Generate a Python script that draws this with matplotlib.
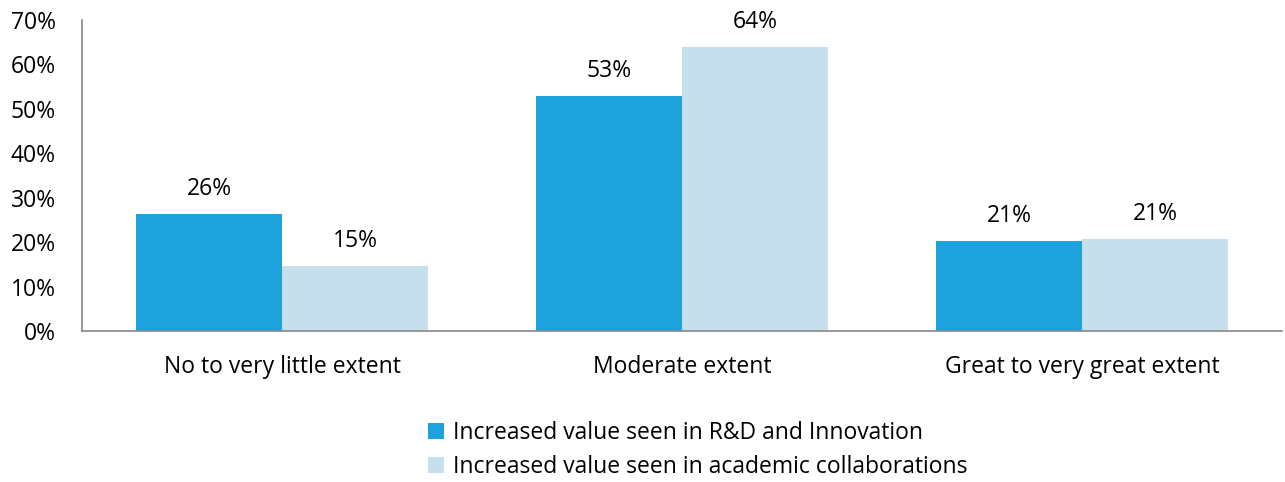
import matplotlib
matplotlib.use("Agg")
import matplotlib.pyplot as plt
import numpy as np

categories = ["No to very little extent", "Moderate extent", "Great to very great extent"]
rd_innovation = [26.3, 52.9, 20.3]
academic = [14.6, 63.9, 20.7]
rd_labels = ["26%", "53%", "21%"]
ac_labels = ["15%", "64%", "21%"]
series_names = ["Increased value seen in R&D and Innovation",
                "Increased value seen in academic collaborations"]

BLUE = "#1ca3dd"
LIGHT = "#c5e0ec"
FS = 16.5

plt.rcParams["font.family"] = ["Open Sans", "DejaVu Sans"]

fig = plt.figure(figsize=(12.85, 4.82), dpi=100)
ax = fig.add_axes([0.0638, 0.313, 0.9342, 0.6455])

x = np.arange(len(categories))
w = 0.365
b1 = ax.bar(x - w / 2, rd_innovation, w, color=BLUE, label=series_names[0])
b2 = ax.bar(x + w / 2, academic, w, color=LIGHT, label=series_names[1])

for bars, labs in ((b1, rd_labels), (b2, ac_labels)):
    for r, lab in zip(bars, labs):
        ax.text(r.get_x() + r.get_width() / 2, r.get_height() + 3.0, lab,
                ha="center", va="bottom", fontsize=FS)

ax.set_xlim(-0.5, 2.5)
ax.set_ylim(0, 70)
ax.set_yticks(range(0, 71, 10))
ax.set_yticklabels([f"{v}%" for v in range(0, 71, 10)], fontsize=FS)
ax.set_xticks(x)
ax.set_xticklabels(categories, fontsize=FS)
ax.tick_params(axis="both", length=0)
ax.tick_params(axis="y", pad=19)
ax.tick_params(axis="x", pad=17)
for s in ("top", "right"):
    ax.spines[s].set_visible(False)
for s in ("left", "bottom"):
    ax.spines[s].set_color("#868686")
    ax.spines[s].set_linewidth(1.2)

fig.legend(handles=[b1, b2], loc="upper left", bbox_to_anchor=(0.324, 0.15),
           frameon=False, fontsize=FS, handlelength=0.7, handleheight=0.7,
           handletextpad=0.4, labelspacing=0.45, borderpad=0)

fig.savefig("out.png", dpi=100)
